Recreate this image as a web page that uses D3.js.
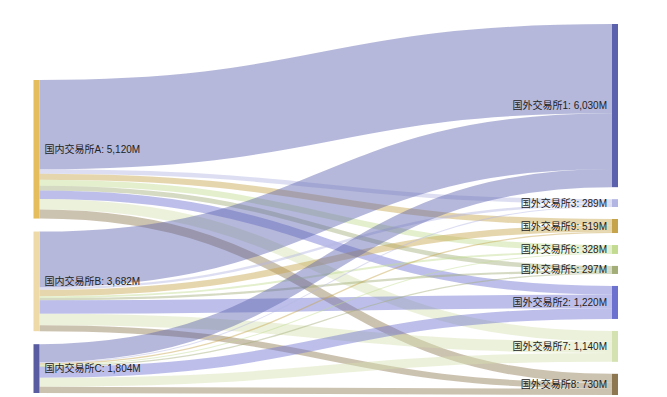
<!DOCTYPE html>
<meta charset="utf-8">
<script src="https://d3js.org/d3.v7.min.js"></script>

<style type="text/css">
body {
  margin: 0;
  background: #fff;
}

.link {
  fill: none;
  stroke-opacity: 0.45;
}

.nodeLabel {
  font-family: "Liberation Sans", "Noto Sans CJK SC", sans-serif;
  font-size: 10px;
  fill: #222;
}
</style>

<body></body>

<script>
  // domestic exchanges (left column)
  const sources = ["国内交易所A", "国内交易所B", "国内交易所C"];
  const sourceTotals = [5120, 3682, 1804];
  const sourceColors = ["#e6bd5c", "#eed9a8", "#5a5ca2"];

  // foreign exchanges (right column), top to bottom
  const targets = ["国外交易所1", "国外交易所3", "国外交易所9", "国外交易所6",
                   "国外交易所5", "国外交易所2", "国外交易所7", "国外交易所8"];
  const targetTotals = [6030, 289, 519, 328, 297, 1220, 1140, 730];
  const targetColors = ["#5c61ad", "#b3b5e2", "#c6a44c", "#c2db90",
                        "#a2ad77", "#6c71d0", "#d4e1b0", "#8d7750"];

  // flows (M) from each domestic exchange, same order as targets
  const flowsA = [3300, 160, 230, 220, 170, 320, 390, 330];
  const flowsB = [2060, 90, 240, 70, 80, 500, 420, 222];
  const flowsC = [670, 39, 49, 38, 47, 400, 330, 231];

  const width = 667;
  const height = 397;
  const nodeWidth = 6;
  const rightPadding = 12;
  const leftPadding = 13;
  const topY = 24;
  const rightBottom = 395;
  const leftBottom = 393;

  const svg = d3.select("body").append("svg")
    .attr("width", width)
    .attr("height", height);

  const flows = [flowsA, flowsB, flowsC];

  // nodes
  const leftNodes = sources.map((name, i) => ({
    name: name, total: sourceTotals[i], color: sourceColors[i], side: 0,
    value: d3.sum(flows[i])
  }));
  const rightNodes = targets.map((name, j) => ({
    name: name, total: targetTotals[j], color: targetColors[j], side: 1,
    value: d3.sum(flows, f => f[j])
  }));

  // links
  const links = [];
  flows.forEach((row, i) => {
    row.forEach((v, j) => {
      links.push({ source: leftNodes[i], target: rightNodes[j], value: v });
    });
  });

  // value -> pixel scale, fitted to the right (busiest) column
  const rightSum = d3.sum(rightNodes, d => d.value);
  const kHeight = rightBottom - topY - (rightNodes.length - 1) * rightPadding;
  const yScale = d3.scaleLinear().domain([0, rightSum]).range([0, kHeight]);

  const xScale = d3.scaleLinear().domain([0, 1]).range([33.5, 612]);

  // stack right column from the top
  let y = topY;
  rightNodes.forEach(n => {
    n.x0 = xScale(1); n.x1 = n.x0 + nodeWidth;
    n.y0 = y; n.y1 = y + yScale(n.value);
    y = n.y1 + rightPadding;
  });

  // stack left column up from the bottom
  const leftSum = d3.sum(leftNodes, d => d.value);
  y = leftBottom - yScale(leftSum) - (leftNodes.length - 1) * leftPadding;
  leftNodes.forEach(n => {
    n.x0 = xScale(0); n.x1 = n.x0 + nodeWidth;
    n.y0 = y; n.y1 = y + yScale(n.value);
    y = n.y1 + leftPadding;
  });

  // link offsets at both ends
  leftNodes.forEach(n => {
    let yy = n.y0;
    links.filter(l => l.source === n).forEach(l => {
      l.width = yScale(l.value);
      l.ys = yy + l.width / 2;
      yy += l.width;
    });
  });
  rightNodes.forEach(n => {
    let yy = n.y0;
    links.filter(l => l.target === n).forEach(l => {
      l.yt = yy + l.width / 2;
      yy += l.width;
    });
  });

  const linkPath = d3.linkHorizontal()
    .source(d => [d.source.x1, d.ys])
    .target(d => [d.target.x0, d.yt]);

  svg.append("g")
    .selectAll("path")
    .data(links)
    .enter().append("path")
      .attr("class", "link")
      .attr("d", linkPath)
      .attr("stroke", d => d.target.color)
      .attr("stroke-width", d => Math.max(0.5, d.width));

  const nodes = leftNodes.concat(rightNodes);
  const fmt = d3.format(",");

  svg.append("g")
    .selectAll("rect")
    .data(nodes)
    .enter().append("rect")
      .attr("x", d => d.x0)
      .attr("y", d => d.y0)
      .attr("width", d => d.x1 - d.x0)
      .attr("height", d => d.y1 - d.y0)
      .attr("fill", d => d.color);

  svg.append("g")
    .selectAll("text")
    .data(nodes)
    .enter().append("text")
      .attr("class", "nodeLabel")
      .attr("x", d => d.side === 0 ? d.x1 + 5 : d.x0 - 5)
      .attr("y", d => (d.y0 + d.y1) / 2)
      .attr("dy", "0.35em")
      .attr("text-anchor", d => d.side === 0 ? "start" : "end")
      .text(d => d.name + ": " + fmt(d.total) + "M");
</script>
